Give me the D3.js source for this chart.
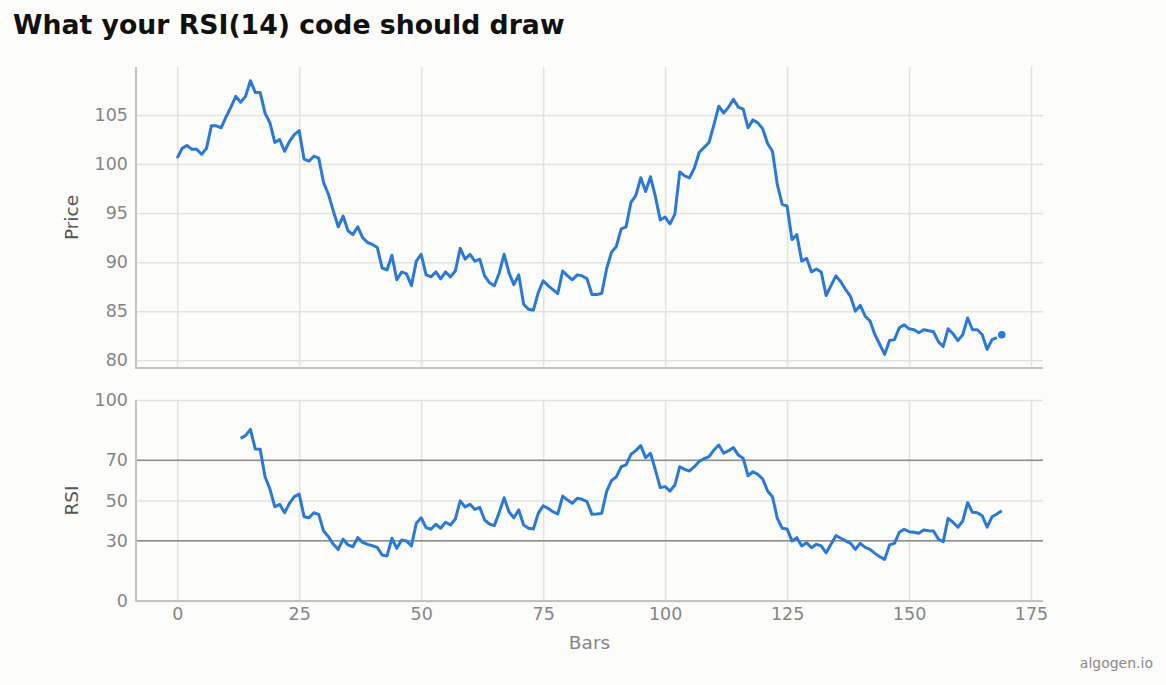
<!DOCTYPE html>
<html>
<head>
<meta charset="utf-8">
<script src="https://cdn.jsdelivr.net/npm/d3@7"></script>
<style>
  html, body { margin: 0; padding: 0; background: #fcfcfa; }
  svg { display: block; }
  text { font-family: "DejaVu Sans", sans-serif; }
</style>
</head>
<body>
<svg id="chart" width="1166" height="685"></svg>
<script>
// ---- data ----
const priceValues = [
  100.6, 101.6, 101.9, 101.5, 101.5, 101.0, 101.6, 103.9, 103.9, 103.7,
  104.8, 105.8, 106.9, 106.3, 106.9, 108.5, 107.3, 107.3, 105.2, 104.2,
  102.2, 102.5, 101.3, 102.3, 103.0, 103.4, 100.5, 100.3, 100.8, 100.6,
  98.1, 96.9, 95.2, 93.6, 94.7, 93.2, 92.8, 93.6, 92.5, 92.0,
  91.8, 91.5, 89.4, 89.2, 90.7, 88.2, 89.0, 88.8, 87.6, 90.1,
  90.8, 88.7, 88.5, 89.0, 88.3, 89.0, 88.5, 89.1, 91.4, 90.3,
  90.8, 90.1, 90.3, 88.6, 87.9, 87.6, 88.9, 90.8, 88.9, 87.7,
  88.7, 85.7, 85.2, 85.1, 86.9, 88.1, 87.6, 87.2, 86.8, 89.1,
  88.6, 88.2, 88.7, 88.6, 88.3, 86.7, 86.7, 86.8, 89.3, 91.0,
  91.6, 93.4, 93.6, 96.1, 96.8, 98.6, 97.2, 98.7, 96.7, 94.3,
  94.6, 93.9, 94.9, 99.2, 98.8, 98.6, 99.6, 101.2, 101.7, 102.2,
  104.0, 105.9, 105.2, 105.8, 106.6, 105.8, 105.6, 103.7, 104.5, 104.2,
  103.6, 102.1, 101.3, 97.9, 95.9, 95.7, 92.3, 92.8, 90.1, 90.4,
  89.0, 89.3, 89.0, 86.6, 87.6, 88.6, 88.0, 87.2, 86.5, 85.0,
  85.6, 84.5, 84.0, 82.6, 81.6, 80.6, 82.0, 82.1, 83.3, 83.6,
  83.2, 83.1, 82.8, 83.1, 83.0, 82.9, 81.9, 81.4, 83.2, 82.7,
  82.0, 82.6, 84.3, 83.1, 83.1, 82.6, 81.1, 82.1, 82.3, 82.6
];
const rsiStart = 13;
const rsiValues = [
  80.9, 82.3, 85.4, 75.6, 75.5, 61.8, 55.7, 46.9, 48.1, 43.9,
  48.6, 51.9, 53.2, 41.9, 41.4, 43.9, 43.1, 34.8, 32.0, 28.2,
  25.7, 30.8, 27.9, 27.0, 31.5, 29.2, 28.2, 27.5, 26.7, 22.9,
  22.4, 31.2, 26.2, 30.3, 29.9, 27.4, 38.7, 41.4, 36.5, 35.7,
  38.2, 36.2, 39.2, 37.8, 40.8, 49.8, 46.8, 48.1, 45.6, 46.6,
  40.3, 38.3, 37.5, 44.1, 51.4, 44.4, 41.4, 45.3, 37.8, 36.2,
  35.8, 43.6, 47.4, 46.1, 44.4, 43.3, 52.2, 50.2, 48.6, 51.1,
  50.6, 49.4, 43.1, 43.3, 43.6, 54.4, 59.9, 61.8, 66.8, 67.7,
  73.0, 74.8, 77.3, 71.3, 73.5, 65.2, 56.4, 56.9, 54.7, 57.7,
  66.8, 65.5, 64.7, 66.8, 69.5, 70.8, 71.8, 75.1, 77.6, 73.5,
  74.8, 76.3, 72.6, 71.0, 62.3, 64.3, 63.0, 60.7, 54.7, 51.9,
  41.1, 36.2, 35.8, 29.9, 31.5, 27.4, 29.0, 26.5, 28.2, 27.4,
  24.0, 28.2, 32.5, 31.2, 29.9, 28.7, 25.7, 28.7, 26.7, 25.7,
  23.7, 22.0, 20.7, 27.9, 28.7, 34.2, 35.7, 34.5, 34.2, 33.7,
  35.3, 35.0, 34.8, 30.8, 29.5, 41.1, 39.2, 36.7, 39.8, 48.9,
  44.1, 43.9, 42.4, 36.7, 41.9, 43.3, 44.9
];
const xTicks = [0, 25, 50, 75, 100, 125, 150, 175];
const priceTicks = [80, 85, 90, 95, 100, 105];
const rsiTicks = [0, 30, 50, 70, 100];
const rsiLevels = [30, 70];

const priceData = priceValues.map((v, i) => ({ i, v }));
const rsiData = rsiValues.map((v, k) => ({ i: rsiStart + k, v }));

// ---- layout ----
const svg = d3.select("#chart");
const W = 1166, H = 685;
const left = 136, right = 1043;
const pTop = 67, pBot = 368;
const rTop = 400, rBot = 601;
const lineColor = "#2b79d7";
const gridColor = "#e2e2de";
const spineColor = "#c4c4bb";
const tickColor = "#858585";
const tickSize = 17.5;

svg.append("rect").attr("width", W).attr("height", H).attr("fill", "#fcfcfa");

const n = priceValues.length;
const xm = (n - 1) * 0.05;
const x = d3.scaleLinear().domain([-xm, n - 1 + xm]).range([left, right]);

const pMin = d3.min(priceValues), pMax = d3.max(priceValues);
const pm = (pMax - pMin) * 0.05;
const yP = d3.scaleLinear().domain([pMin - pm, pMax + pm]).range([pBot, pTop]);
const yR = d3.scaleLinear().domain([0, 100]).range([rBot, rTop]);

function panel(y, top, bot, yTicks, showX) {
  const g = svg.append("g");
  g.append("g").attr("transform", `translate(0,${bot})`)
    .call(d3.axisBottom(x).tickValues(xTicks).tickSize(-(bot - top)).tickFormat(showX ? d3.format("d") : ""))
    .call(a => a.select(".domain").remove())
    .call(a => a.selectAll(".tick line").attr("stroke", gridColor).attr("stroke-width", 1.5))
    .call(a => a.selectAll(".tick text").attr("fill", tickColor).attr("font-size", tickSize)
      .attr("font-family", "DejaVu Sans").attr("y", 7).attr("dy", "0.71em"));
  g.append("g").attr("transform", `translate(${left},0)`)
    .call(d3.axisLeft(y).tickValues(yTicks).tickSize(-(right - left)).tickPadding(8).tickFormat(d3.format("d")))
    .call(a => a.select(".domain").remove())
    .call(a => a.selectAll(".tick line").attr("stroke", gridColor).attr("stroke-width", 1.5))
    .call(a => a.selectAll(".tick text").attr("fill", tickColor).attr("font-size", tickSize)
      .attr("font-family", "DejaVu Sans"));
  return g;
}

panel(yP, pTop, pBot, priceTicks, false);
panel(yR, rTop, rBot, rsiTicks, true);

// RSI levels
svg.append("g").selectAll("line").data(rsiLevels).join("line")
  .attr("x1", left).attr("x2", right)
  .attr("y1", d => yR(d)).attr("y2", d => yR(d))
  .attr("stroke", "#8e8e86").attr("stroke-width", 1.6);

// spines
function spines(top, bot) {
  svg.append("path")
    .attr("d", `M${left},${top}V${bot}H${right}`)
    .attr("fill", "none").attr("stroke", spineColor).attr("stroke-width", 2);
}
spines(pTop, pBot);
spines(rTop, rBot);

// price line (up to the bar before last) + last-bar marker
const lineP = d3.line().x(d => x(d.i)).y(d => yP(d.v));
svg.append("path").datum(priceData.slice(0, n - 1))
  .attr("d", lineP).attr("fill", "none").attr("stroke", lineColor)
  .attr("stroke-width", 3).attr("stroke-linejoin", "round");
svg.append("circle").datum(priceData[n - 1])
  .attr("cx", d => x(d.i)).attr("cy", d => yP(d.v)).attr("r", 3.8).attr("fill", lineColor);

// RSI line
const lineR = d3.line().x(d => x(d.i)).y(d => yR(d.v));
svg.append("path").datum(rsiData)
  .attr("d", lineR).attr("fill", "none").attr("stroke", lineColor)
  .attr("stroke-width", 3).attr("stroke-linejoin", "round");

// titles
svg.append("text").attr("x", 13).attr("y", 34)
  .attr("font-size", 26.7).attr("font-weight", "bold").attr("fill", "#111")
  .text("What your RSI(14) code should draw");

svg.append("text").attr("transform", `translate(78,${(pTop + pBot) / 2}) rotate(-90)`)
  .attr("text-anchor", "middle").attr("font-size", 18.5).attr("fill", "#555")
  .text("Price");
svg.append("text").attr("transform", `translate(78,${(rTop + rBot) / 2}) rotate(-90)`)
  .attr("text-anchor", "middle").attr("font-size", 18.5).attr("fill", "#555")
  .text("RSI");
svg.append("text").attr("x", (left + right) / 2).attr("y", 649)
  .attr("text-anchor", "middle").attr("font-size", 18.5).attr("fill", tickColor)
  .text("Bars");
svg.append("text").attr("x", 1153).attr("y", 668)
  .attr("text-anchor", "end").attr("font-size", 14).attr("fill", "#8a8a8a")
  .text("algogen.io");
</script>
</body>
</html>
